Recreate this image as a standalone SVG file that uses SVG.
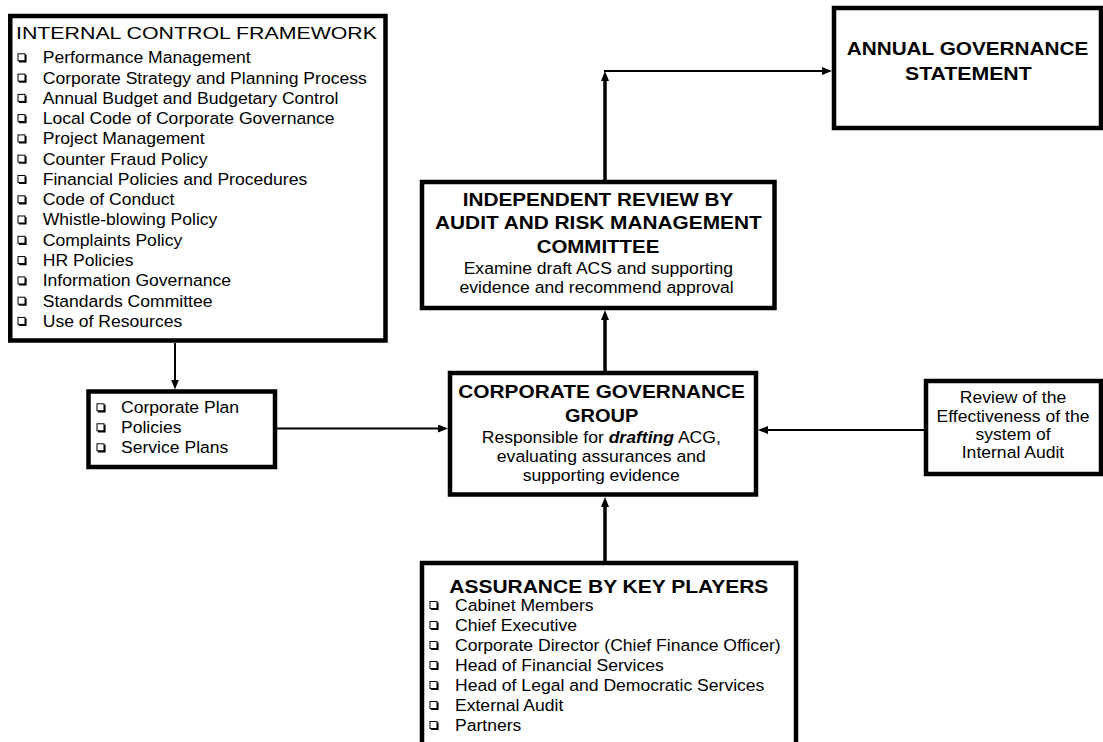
<svg xmlns="http://www.w3.org/2000/svg" xmlns:xlink="http://www.w3.org/1999/xlink" width="1103" height="742" viewBox="0 0 1103 742">
<style>
  .box { fill: #ffffff; stroke: #000000; stroke-width: 4.5; }
  .t { font-family: "Liberation Sans", Arial, sans-serif; font-size: 16.5px; fill: #000000; }
  .h { font-family: "Liberation Sans", Arial, sans-serif; font-size: 18px; font-weight: bold; fill: #000000; }
  .c { text-anchor: middle; }
  .thin { stroke: #000000; stroke-width: 2; fill: none; }
  .thick { stroke: #000000; stroke-width: 3.5; fill: none; }
</style>
<defs>
  <marker id="arr" viewBox="0 0 10 8" refX="2" refY="4" markerWidth="10" markerHeight="8" markerUnits="userSpaceOnUse" orient="auto">
    <path d="M0,0 L10,4 L0,8 z" fill="#000000"/>
  </marker>
  <g id="cb">
    <rect x="0.5" y="0.5" width="7" height="7" fill="none" stroke="#000000" stroke-width="1"/>
    <path d="M1.5,8.3 H8.3 V1.5" fill="none" stroke="#000000" stroke-width="1.6"/>
  </g>
</defs>

<g id="connectors">
  <line class="thin" x1="175" y1="343" x2="175" y2="381.5" marker-end="url(#arr)"/>
  <line class="thin" x1="277" y1="428.5" x2="440" y2="428.5" marker-end="url(#arr)"/>
  <line class="thin" x1="924" y1="430" x2="766" y2="430" marker-end="url(#arr)"/>
  <line class="thick" x1="605" y1="561" x2="605" y2="505" marker-end="url(#arr)"/>
  <line class="thick" x1="605" y1="371" x2="605" y2="318" marker-end="url(#arr)"/>
  <line class="thick" x1="605" y1="180" x2="605" y2="79" marker-end="url(#arr)"/>
  <line class="thin" x1="604" y1="71" x2="824" y2="71" marker-end="url(#arr)"/>
</g>

<g id="internal-control-framework">
  <rect class="box" x="10.25" y="16" width="375.25" height="324.5"/>
  <text class="t" x="16" y="39" font-size="17" textLength="361" lengthAdjust="spacingAndGlyphs">INTERNAL CONTROL FRAMEWORK</text>
  <use xlink:href="#cb" x="17.5" y="53.3"/>
  <use xlink:href="#cb" x="17.5" y="73.6"/>
  <use xlink:href="#cb" x="17.5" y="93.9"/>
  <use xlink:href="#cb" x="17.5" y="114.1"/>
  <use xlink:href="#cb" x="17.5" y="134.4"/>
  <use xlink:href="#cb" x="17.5" y="154.7"/>
  <use xlink:href="#cb" x="17.5" y="175.0"/>
  <use xlink:href="#cb" x="17.5" y="195.3"/>
  <use xlink:href="#cb" x="17.5" y="215.5"/>
  <use xlink:href="#cb" x="17.5" y="235.8"/>
  <use xlink:href="#cb" x="17.5" y="256.1"/>
  <use xlink:href="#cb" x="17.5" y="276.4"/>
  <use xlink:href="#cb" x="17.5" y="296.7"/>
  <use xlink:href="#cb" x="17.5" y="316.9"/>
  <g transform="matrix(1.065,0,0,1,-2.776,0)">
    <text class="t" x="42.7" y="63.3">Performance Management</text>
    <text class="t" x="42.7" y="83.6">Corporate Strategy and Planning Process</text>
    <text class="t" x="42.7" y="103.9">Annual Budget and Budgetary Control</text>
    <text class="t" x="42.7" y="124.1">Local Code of Corporate Governance</text>
    <text class="t" x="42.7" y="144.4">Project Management</text>
    <text class="t" x="42.7" y="164.7">Counter Fraud Policy</text>
    <text class="t" x="42.7" y="185.0">Financial Policies and Procedures</text>
    <text class="t" x="42.7" y="205.3">Code of Conduct</text>
    <text class="t" x="42.7" y="225.5">Whistle-blowing Policy</text>
    <text class="t" x="42.7" y="245.8">Complaints Policy</text>
    <text class="t" x="42.7" y="266.1">HR Policies</text>
    <text class="t" x="42.7" y="286.4">Information Governance</text>
    <text class="t" x="42.7" y="306.7">Standards Committee</text>
    <text class="t" x="42.7" y="326.9">Use of Resources</text>
  </g>
</g>

<g id="plans">
  <rect class="box" x="88.5" y="391.5" width="186.5" height="75.5"/>
  <use xlink:href="#cb" x="96.5" y="403.3"/>
  <use xlink:href="#cb" x="96.5" y="423.3"/>
  <use xlink:href="#cb" x="96.5" y="443.3"/>
  <g transform="matrix(1.065,0,0,1,-7.865,0)">
    <text class="t" x="121" y="413.3">Corporate Plan</text>
    <text class="t" x="121" y="433.3">Policies</text>
    <text class="t" x="121" y="453.3">Service Plans</text>
  </g>
</g>

<g id="independent-review">
  <rect class="box" x="422" y="182" width="352.5" height="126"/>
  <text class="h" x="462.7" y="206" textLength="270.7" lengthAdjust="spacingAndGlyphs">INDEPENDENT REVIEW BY</text>
  <text class="h" x="435" y="229.3" textLength="326.7" lengthAdjust="spacingAndGlyphs">AUDIT AND RISK MANAGEMENT</text>
  <text class="h" x="536.7" y="253.3" textLength="122.6" lengthAdjust="spacingAndGlyphs">COMMITTEE</text>
  <g transform="matrix(1.065,0,0,1,-38.84,0)">
    <text class="t c" x="598.3" y="274.3">Examine draft ACS and supporting</text>
    <text class="t c" x="596.7" y="293.3">evidence and recommend approval</text>
  </g>
</g>

<g id="annual-governance-statement">
  <rect class="box" x="834" y="8" width="267" height="120"/>
  <text class="h" x="846.7" y="55" textLength="241.7" lengthAdjust="spacingAndGlyphs">ANNUAL GOVERNANCE</text>
  <text class="h" x="905" y="80" textLength="126.7" lengthAdjust="spacingAndGlyphs">STATEMENT</text>
</g>

<g id="corporate-governance-group">
  <rect class="box" x="450" y="373" width="306" height="121.5"/>
  <text class="h" x="458.3" y="398.3" textLength="286.7" lengthAdjust="spacingAndGlyphs">CORPORATE GOVERNANCE</text>
  <text class="h" x="565" y="421.7" textLength="73.3" lengthAdjust="spacingAndGlyphs">GROUP</text>
  <g transform="matrix(1.065,0,0,1,-39.08,0)">
    <text class="t c" x="601.3" y="443.3">Responsible for <tspan font-weight="bold" font-style="italic">drafting</tspan> ACG,</text>
    <text class="t c" x="601.3" y="462.5">evaluating assurances and</text>
    <text class="t c" x="601.3" y="481.5">supporting evidence</text>
  </g>
</g>

<g id="review-effectiveness">
  <rect class="box" x="926" y="381" width="175" height="93"/>
  <g transform="matrix(1.065,0,0,1,-65.85,0)">
    <text class="t c" x="1013" y="403.3">Review of the</text>
    <text class="t c" x="1013" y="421.7">Effectiveness of the</text>
    <text class="t c" x="1013" y="440">system of</text>
    <text class="t c" x="1013" y="458.3">Internal Audit</text>
  </g>
</g>

<g id="assurance-key-players">
  <rect class="box" x="422" y="563" width="374" height="200"/>
  <text class="h" x="449.3" y="592.5" font-size="17.5" textLength="319" lengthAdjust="spacingAndGlyphs">ASSURANCE BY KEY PLAYERS</text>
  <use xlink:href="#cb" x="429.5" y="601"/>
  <use xlink:href="#cb" x="429.5" y="621"/>
  <use xlink:href="#cb" x="429.5" y="641"/>
  <use xlink:href="#cb" x="429.5" y="661"/>
  <use xlink:href="#cb" x="429.5" y="681"/>
  <use xlink:href="#cb" x="429.5" y="701"/>
  <use xlink:href="#cb" x="429.5" y="721"/>
  <g transform="matrix(1.065,0,0,1,-29.575,0)">
    <text class="t" x="455" y="611">Cabinet Members</text>
    <text class="t" x="455" y="631">Chief Executive</text>
    <text class="t" x="455" y="651">Corporate Director (Chief Finance Officer)</text>
    <text class="t" x="455" y="671">Head of Financial Services</text>
    <text class="t" x="455" y="691">Head of Legal and Democratic Services</text>
    <text class="t" x="455" y="711">External Audit</text>
    <text class="t" x="455" y="731">Partners</text>
  </g>
</g>
</svg>
